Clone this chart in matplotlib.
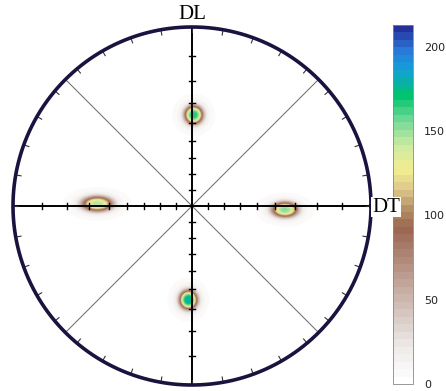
import numpy as np
import matplotlib
matplotlib.use("Agg")
import matplotlib.pyplot as plt
from matplotlib.colors import LinearSegmentedColormap

# pole figure data (unit-disk coordinates of the four density maxima)
pole_x = [0.01, -0.53, 0.52, -0.02]
pole_y = [0.51, 0.012, -0.02, -0.525]
pole_peak = [168, 145, 152, 180]
pole_sx = [0.052, 0.088, 0.074, 0.05]
pole_sy = [0.052, 0.043, 0.043, 0.053]

cbar_ticks = [0, 50, 100, 150, 200]
vmax = 213

axis_labels = ["DL", "DT"]
tick_angles = np.arange(10, 90, 10)        # polar angle ticks along the axes (deg)
rim_angles = np.arange(0, 360, 10)         # azimuth ticks on the rim (deg)

# colour scale
cm_vals = [0, 20, 50, 80, 92, 105, 115, 128, 142, 158, 172, 188, 200, 213]
cm_cols = ["#ffffff", "#eeeae8", "#cbb6ad", "#a97c6b", "#9a6650", "#b79468",
           "#dcc38a", "#f2ef92", "#cdeaa2", "#6fd896", "#00c46e", "#12a0d8",
           "#2a78d8", "#25309a"]
cmap = LinearSegmentedColormap.from_list(
    "pf", [(v / vmax, c) for v, c in zip(cm_vals, cm_cols)], N=48)

W, H = 446, 391
fig = plt.figure(figsize=(W / 100, H / 100), dpi=100)
ax = fig.add_axes([13 / W, 6 / H, 358 / W, 358 / H])
ax.set_xlim(-1, 1)
ax.set_ylim(-1, 1)
ax.set_aspect("equal")
ax.axis("off")

# density map (flat-topped peaks with a soft halo)
g = np.linspace(-1, 1, 600)
X, Y = np.meshgrid(g, g)
Z = np.zeros_like(X)
for px, py, pk, sx, sy in zip(pole_x, pole_y, pole_peak, pole_sx, pole_sy):
    q = ((X - px) / sx) ** 2 + ((Y - py) / sy) ** 2
    Z += pk * (0.85 * np.exp(-q ** 1.6) + 0.15 * np.exp(-q / 3))
Z[X ** 2 + Y ** 2 > 1] = np.nan
im = ax.imshow(Z, extent=[-1, 1, -1, 1], origin="lower", cmap=cmap,
               vmin=0, vmax=vmax, interpolation="bilinear", zorder=1)

# diagonals
d = np.cos(np.pi / 4)
ax.plot([-d, d], [-d, d], color="#666666", lw=0.7, zorder=2)
ax.plot([-d, d], [d, -d], color="#666666", lw=0.7, zorder=2)

# main axes
ax.plot([-1, 1], [0, 0], color="black", lw=1.4, zorder=3)
ax.plot([0, 0], [-1, 1], color="black", lw=1.4, zorder=3)

# stereographic ticks along the axes
r = np.tan(np.radians(tick_angles) / 2)
tl = 0.018
for s in (-1, 1):
    for ri in r:
        ax.plot([s * ri, s * ri], [-tl, tl], color="black", lw=1.0, zorder=3)
        ax.plot([-tl, tl], [s * ri, s * ri], color="black", lw=1.0, zorder=3)

# rim ticks
for a in np.radians(rim_angles):
    ax.plot([np.cos(a), 0.97 * np.cos(a)], [np.sin(a), 0.97 * np.sin(a)],
            color="#333333", lw=0.8, zorder=3)

# outer circle
t = np.linspace(0, 2 * np.pi, 400)
ax.plot(np.cos(t), np.sin(t), color="#1c1240", lw=2.6, zorder=4, clip_on=False)

ax.text(0, 1.015, axis_labels[0], ha="center", va="bottom", fontsize=15,
        family="Liberation Serif", zorder=5, clip_on=False)

# colour bar
cax = fig.add_axes([393 / W, 7 / H, 20 / W, 359 / H])
cb = fig.colorbar(im, cax=cax, ticks=cbar_ticks)
cb.outline.set_edgecolor("#888888")
cb.outline.set_linewidth(0.6)
cax.tick_params(length=0, labelsize=8, pad=8, colors="#222222")

fig.text(372 / W, 1 - 207 / H, axis_labels[1], ha="left", va="center",
         fontsize=15, family="Liberation Serif", zorder=10,
         bbox=dict(facecolor="white", edgecolor="none", pad=0.5))

fig.savefig("out.png", dpi=100)
